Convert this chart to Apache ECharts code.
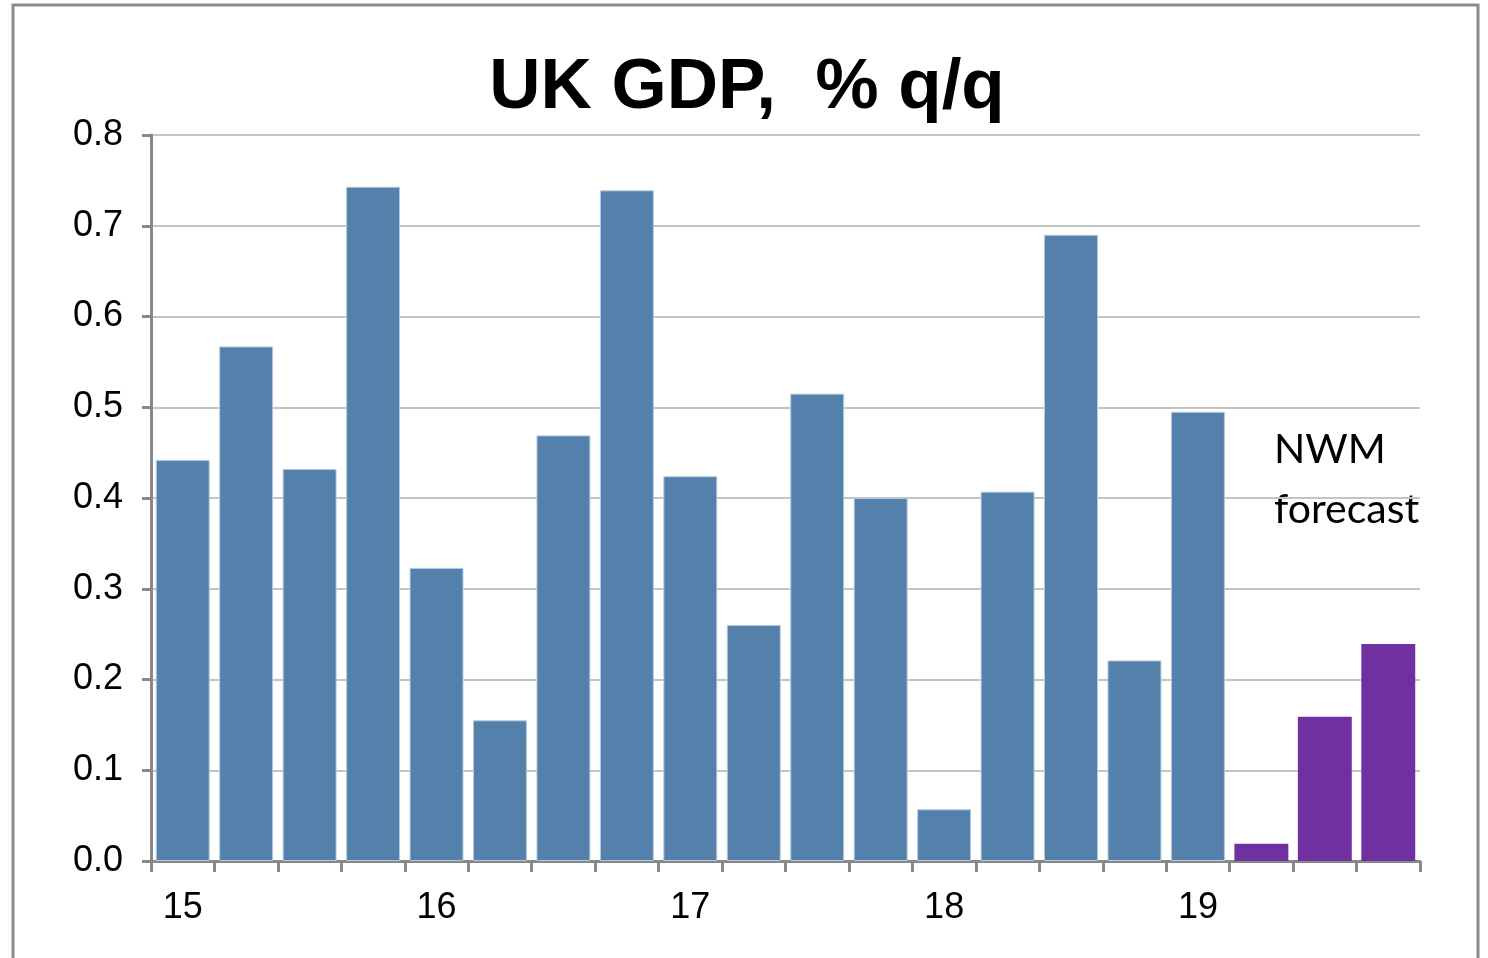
<!DOCTYPE html>
<html>
<head>
<meta charset="utf-8">
<style>
  html, body { margin: 0; padding: 0; background: #fff; }
  #chart { width: 1488px; height: 958px; }
</style>
<script src="https://cdn.jsdelivr.net/npm/echarts@6/dist/echarts.min.js"></script>
</head>
<body>
<div id="chart"></div>
<script>
// Quarterly UK GDP growth, % q/q (2015 Q1 – 2019 Q4)
const quarters = [
  '15 Q1', '15 Q2', '15 Q3', '15 Q4',
  '16 Q1', '16 Q2', '16 Q3', '16 Q4',
  '17 Q1', '17 Q2', '17 Q3', '17 Q4',
  '18 Q1', '18 Q2', '18 Q3', '18 Q4',
  '19 Q1', '19 Q2', '19 Q3', '19 Q4'
];
// Outturns (null where the forecast applies)
const actual = [
  0.442, 0.567, 0.432, 0.743,
  0.323, 0.155, 0.469, 0.739,
  0.424, 0.260, 0.515, 0.400,
  0.057, 0.407, 0.690, 0.221,
  0.495, null, null, null
];
// NWM forecast quarters
const forecast = [
  null, null, null, null,
  null, null, null, null,
  null, null, null, null,
  null, null, null, null,
  null, 0.019, 0.159, 0.239
];
const yTicks = { min: 0, max: 0.8, interval: 0.1 };

const chart = echarts.init(document.getElementById('chart'));
chart.setOption({
  animation: false,
  backgroundColor: '#fff',
  title: {
    text: 'UK GDP,  % q/q',
    left: 742,
    top: 48,
    textAlign: 'center',
    textStyle: {
      fontFamily: 'Liberation Sans, Arial, sans-serif',
      fontWeight: 'bold',
      fontSize: 71,
      color: '#000'
    }
  },
  grid: { left: 151, right: 68, top: 135, bottom: 97, containLabel: false },
  xAxis: {
    type: 'category',
    data: quarters,
    boundaryGap: true,
    axisLine: { lineStyle: { color: '#888', width: 3 } },
    axisTick: { show: true, interval: 0, length: 11, lineStyle: { color: '#888', width: 3 } },
    axisLabel: {
      interval: 3,
      margin: 29,
      formatter: v => v.slice(0, 2),
      fontFamily: 'Liberation Sans, Arial, sans-serif',
      fontSize: 36,
      color: '#000'
    }
  },
  yAxis: {
    type: 'value',
    min: yTicks.min,
    max: yTicks.max,
    interval: yTicks.interval,
    axisLine: { show: true, lineStyle: { color: '#888', width: 3 } },
    axisTick: { show: true, length: 9, lineStyle: { color: '#888', width: 3 } },
    splitLine: { lineStyle: { color: '#c4c4c4', width: 2 } },
    axisLabel: {
      margin: 28,
      formatter: v => v.toFixed(1),
      fontFamily: 'Liberation Sans, Arial, sans-serif',
      fontSize: 36,
      color: '#000'
    }
  },
  series: [
    {
      name: 'Actual',
      type: 'bar',
      data: actual,
      barGap: '-100%',
      barCategoryGap: '15%',
      itemStyle: { color: '#5480ac', borderColor: '#b5c9de', borderWidth: 1 }
    },
    {
      name: 'NWM forecast',
      type: 'bar',
      data: forecast,
      barGap: '-100%',
      barCategoryGap: '15%',
      itemStyle: { color: '#7030a0' }
    }
  ],
  graphic: [
    {
      type: 'rect',
      shape: { x: 13, y: 5, width: 1465, height: 980 },
      style: { fill: 'none', stroke: '#8c8c8c', lineWidth: 3 },
      silent: true
    },
    {
      type: 'text',
      left: 1274,
      top: 420,
      style: {
        text: 'NWM\nforecast',
        font: '41px Lato, "Open Sans", sans-serif',
        lineHeight: 60,
        fill: '#000'
      }
    }
  ]
});
</script>
</body>
</html>
